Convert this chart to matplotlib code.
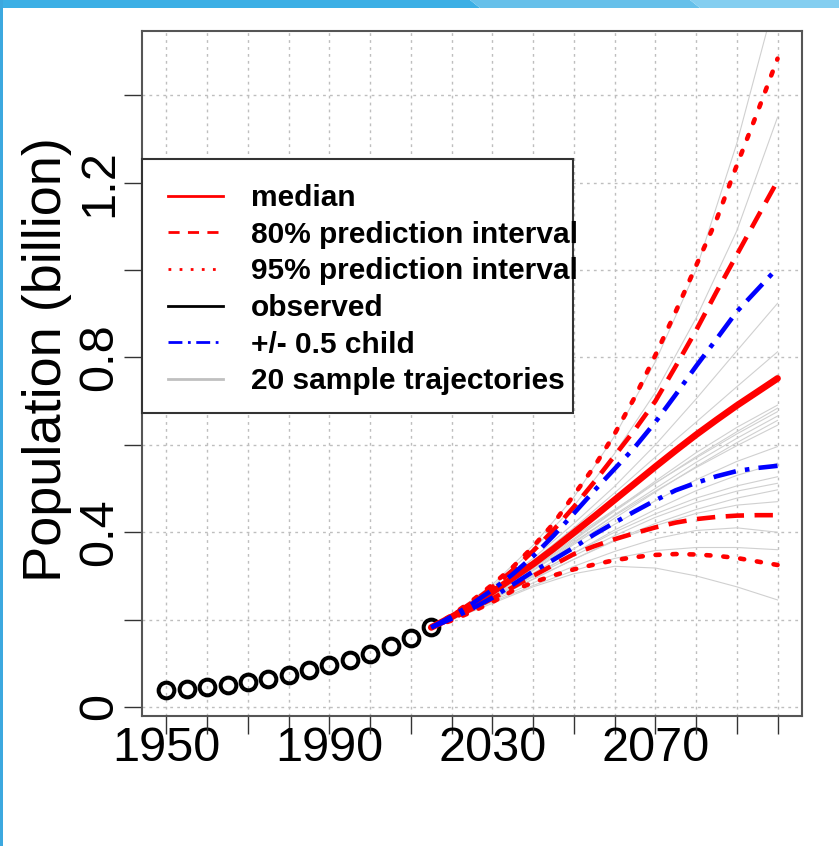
import matplotlib
matplotlib.use("Agg")
import matplotlib.pyplot as plt
from matplotlib.lines import Line2D
from matplotlib.patches import Rectangle, Polygon
import numpy as np

plt.rcParams['font.family'] = ['Liberation Sans', 'DejaVu Sans']

# observed population (billion), 1950-2015
obs_years = [1950, 1955, 1960, 1965, 1970, 1975, 1980, 1985, 1990, 1995, 2000, 2005, 2010, 2015]
observed = [0.038, 0.041, 0.045, 0.050, 0.056, 0.063, 0.073, 0.084, 0.095, 0.108, 0.122, 0.139, 0.159, 0.182]

# projection summaries, 2015-2100 every 5 years
proj_years = list(range(2015, 2101, 5))
median = [0.182, 0.206, 0.233, 0.263, 0.295, 0.327, 0.362, 0.399, 0.436, 0.474,
          0.512, 0.550, 0.587, 0.623, 0.657, 0.690, 0.721, 0.752]
pi80_low = [0.182, 0.202, 0.224, 0.248, 0.274, 0.300, 0.325, 0.350, 0.368, 0.384,
            0.398, 0.411, 0.422, 0.430, 0.435, 0.438, 0.439, 0.439]
pi80_high = [0.182, 0.208, 0.239, 0.274, 0.313, 0.357, 0.405, 0.458, 0.515, 0.575,
             0.635, 0.700, 0.780, 0.862, 0.950, 1.035, 1.120, 1.204]
pi95_low = [0.182, 0.198, 0.218, 0.240, 0.266, 0.285, 0.301, 0.315, 0.326, 0.336,
            0.343, 0.348, 0.350, 0.349, 0.346, 0.341, 0.333, 0.325]
pi95_high = [0.182, 0.210, 0.243, 0.280, 0.320, 0.367, 0.420, 0.485, 0.550, 0.625,
             0.710, 0.805, 0.905, 1.010, 1.115, 1.240, 1.360, 1.484]
half_child_low = [0.182, 0.202, 0.225, 0.250, 0.280, 0.310, 0.337, 0.365, 0.395, 0.422,
                  0.448, 0.473, 0.496, 0.513, 0.528, 0.540, 0.547, 0.552]
half_child_high = [0.182, 0.207, 0.236, 0.268, 0.304, 0.345, 0.392, 0.443, 0.495, 0.545,
                   0.595, 0.652, 0.715, 0.780, 0.842, 0.905, 0.955, 1.005]

# 20 sample trajectories
traj_years = [2015, 2020, 2030, 2040, 2050, 2060, 2070, 2080, 2090, 2100]
trajectories = [
    [0.182, 0.210, 0.280, 0.370, 0.480, 0.620, 0.790, 1.000, 1.290, 1.640],
    [0.182, 0.209, 0.275, 0.360, 0.460, 0.580, 0.720, 0.890, 1.090, 1.350],
    [0.182, 0.207, 0.268, 0.340, 0.420, 0.505, 0.600, 0.705, 0.815, 0.924],
    [0.182, 0.207, 0.266, 0.335, 0.410, 0.490, 0.572, 0.652, 0.733, 0.813],
    [0.182, 0.206, 0.264, 0.330, 0.400, 0.475, 0.550, 0.622, 0.692, 0.760],
    [0.182, 0.206, 0.262, 0.322, 0.385, 0.450, 0.517, 0.582, 0.640, 0.691],
    [0.182, 0.205, 0.258, 0.318, 0.382, 0.448, 0.512, 0.573, 0.630, 0.684],
    [0.182, 0.206, 0.263, 0.326, 0.390, 0.452, 0.513, 0.570, 0.625, 0.676],
    [0.182, 0.205, 0.257, 0.314, 0.375, 0.440, 0.500, 0.560, 0.615, 0.666],
    [0.182, 0.204, 0.255, 0.312, 0.372, 0.432, 0.492, 0.550, 0.605, 0.656],
    [0.182, 0.205, 0.259, 0.318, 0.378, 0.438, 0.494, 0.548, 0.598, 0.645],
    [0.182, 0.204, 0.254, 0.306, 0.362, 0.418, 0.472, 0.520, 0.562, 0.596],
    [0.182, 0.203, 0.250, 0.300, 0.352, 0.405, 0.452, 0.495, 0.530, 0.558],
    [0.182, 0.204, 0.252, 0.302, 0.352, 0.400, 0.442, 0.478, 0.506, 0.527],
    [0.182, 0.203, 0.249, 0.298, 0.346, 0.392, 0.434, 0.468, 0.494, 0.512],
    [0.182, 0.202, 0.246, 0.292, 0.338, 0.382, 0.420, 0.452, 0.478, 0.497],
    [0.182, 0.203, 0.248, 0.293, 0.338, 0.380, 0.415, 0.443, 0.462, 0.470],
    [0.182, 0.202, 0.243, 0.284, 0.322, 0.356, 0.385, 0.404, 0.410, 0.400],
    [0.182, 0.201, 0.240, 0.278, 0.312, 0.340, 0.358, 0.365, 0.365, 0.360],
    [0.182, 0.200, 0.237, 0.275, 0.305, 0.322, 0.318, 0.300, 0.275, 0.245],
]

x_ticks = list(range(1950, 2101, 10))
x_labels = ['1950', '', '', '', '1990', '', '', '', '2030', '', '', '', '2070', '', '', '']
y_ticks = [0, 0.2, 0.4, 0.6, 0.8, 1.0, 1.2, 1.4]
y_labels = ['0', '', '0.4', '', '0.8', '', '1.2', '']

legend_labels = ['median', '80% prediction interval', '95% prediction interval',
                 'observed', '+/- 0.5 child', '20 sample trajectories']

W, H = 839, 846
fig = plt.figure(figsize=(W / 100, H / 100), dpi=100)

# slide frame: blue band on top, thin blue line on the left
fig.patches.append(Polygon([[0, 1], [470 / W, 1], [480 / W, 1 - 8 / H], [0, 1 - 8 / H]],
                           closed=True, transform=fig.transFigure, color='#3CAFE5', lw=0))
fig.patches.append(Polygon([[470 / W, 1], [690 / W, 1], [700 / W, 1 - 8 / H], [480 / W, 1 - 8 / H]],
                           closed=True, transform=fig.transFigure, color='#66C0EA', lw=0))
fig.patches.append(Polygon([[690 / W, 1], [1, 1], [1, 1 - 8 / H], [700 / W, 1 - 8 / H]],
                           closed=True, transform=fig.transFigure, color='#84CEF0', lw=0))
fig.patches.append(Rectangle((0, 0), 3 / W, 1, transform=fig.transFigure, color='#3CA8DF', lw=0))

ax = fig.add_axes([142 / W, 1 - 715.7 / H, (802 - 142) / W, (715.7 - 30.7) / H])
ax.set_xlim(1944, 2106)
ax.set_ylim(-0.02, 1.548)

ax.grid(True, color='#BEBEBE', linestyle=(0, (2, 3)), linewidth=1.0)
ax.set_axisbelow(True)

for traj in trajectories:
    ax.plot(traj_years, traj, color='#D0D0D0', lw=0.8, zorder=2)

ax.plot(obs_years, observed, linestyle='none', marker='o', markersize=11.3,
        markerfacecolor='none', markeredgecolor='black', markeredgewidth=2.9, zorder=3)

ax.plot(proj_years, median, color='red', lw=4.8, solid_capstyle='round', zorder=4)
for q in (pi80_low, pi80_high):
    ax.plot(proj_years, q, color='red', lw=3.3, linestyle=(0, (4, 2.3)), zorder=4)
for q in (pi95_low, pi95_high):
    ax.plot(proj_years, q, color='red', lw=3.3, linestyle=(0, (0.9, 2.8)),
            dash_capstyle='round', zorder=4)
for q in (half_child_low, half_child_high):
    ax.plot(proj_years, q, color='blue', lw=3.3, linestyle=(0, (5, 2, 1, 2)), zorder=4)

ax.set_xticks(x_ticks)
ax.set_xticklabels(x_labels)
ax.set_yticks(y_ticks)
ax.set_yticklabels(y_labels, rotation=90, va='center')
ax.tick_params(axis='both', length=13, width=1.0, color='#333333', labelsize=35)
ax.tick_params(axis='x', pad=-5.5)
ax.tick_params(axis='y', pad=1)

for s in ax.spines.values():
    s.set_color('#555555')
    s.set_linewidth(1.5)

ax.set_ylabel('Population (billion)', fontsize=39, labelpad=4)
ax.yaxis.label.set_y((715.7 - 360) / (715.7 - 30.7))

# legend box
ax.add_patch(Rectangle((142 / W, 1 - 413 / H), (573 - 142) / W, (413 - 159) / H,
                       transform=fig.transFigure, facecolor='white', edgecolor='#333333',
                       lw=1.5, zorder=6, clip_on=False))
handles = [
    Line2D([], [], color='red', lw=2),
    Line2D([], [], color='red', lw=2, linestyle=(0, (4, 3))),
    Line2D([], [], color='red', lw=2, linestyle=(0, (1, 3))),
    Line2D([], [], color='black', lw=2),
    Line2D([], [], color='blue', lw=2, linestyle=(0, (5, 2, 1, 2))),
    Line2D([], [], color='#C0C0C0', lw=2),
]
leg = ax.legend(handles, legend_labels, loc='upper left',
                bbox_to_anchor=(168 / W, 1 - 184 / H), bbox_transform=fig.transFigure,
                frameon=False, prop=dict(weight='bold', size=21.5),
                handlelength=1.84, handletextpad=0.94, labelspacing=0.29,
                borderpad=0, borderaxespad=0)
leg.set_zorder(7)

fig.savefig('out.png', dpi=100, facecolor='white')
